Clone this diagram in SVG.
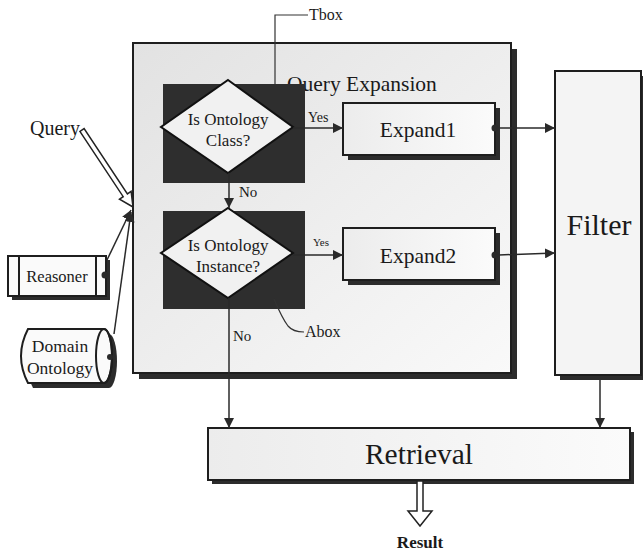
<svg xmlns="http://www.w3.org/2000/svg" width="643" height="554" viewBox="0 0 643 554">
  <style>
    text { font-family: "Liberation Serif", "Times New Roman", serif; fill: #1a1a1a; }
    .box { stroke: #1e1e1e; stroke-width: 2; }
    .shadow { fill: #2c2c2c; }
    .dark { fill: #2e2e2e; }
    .dia { fill: #f1f1f1; stroke: #111; stroke-width: 2; }
    .conn { fill: none; stroke: #2a2a2a; stroke-width: 1.5; }
    .thin { fill: none; stroke: #333; stroke-width: 1.2; }
    .hollow { fill: #fff; stroke: #222; stroke-width: 1.5; stroke-linejoin: miter; }
  </style>
  <defs>
    <marker id="arr" viewBox="0 0 10 10" refX="10" refY="5" markerWidth="10" markerHeight="10" markerUnits="userSpaceOnUse" orient="auto">
      <path d="M0,0 L10,5 L0,10 Z" fill="#2a2a2a"/>
    </marker>
    <linearGradient id="qeFill" x1="0" y1="0" x2="1" y2="1">
      <stop offset="0" stop-color="#e2e2e2"/>
      <stop offset="1" stop-color="#f9f9f9"/>
    </linearGradient>
    <linearGradient id="boxFill" x1="0" y1="0" x2="1" y2="0">
      <stop offset="0" stop-color="#ececec"/>
      <stop offset="1" stop-color="#fbfbfb"/>
    </linearGradient>
  </defs>

  <rect width="643" height="554" fill="#ffffff"/>

  <!-- Query Expansion container -->
  <g id="query-expansion">
    <rect class="shadow" x="139" y="49" width="378" height="330"/>
    <rect class="box" x="133" y="43" width="378" height="330" fill="url(#qeFill)"/>
    <text x="287" y="91" font-size="21.5">Query Expansion</text>
  </g>

  <!-- Tbox: class test -->
  <g id="tbox">
    <rect class="dark" x="163" y="84" width="142" height="99"/>
    <polygon class="dia" points="228,80 293,127 228,173 161,127"/>
    <text x="228" y="125" font-size="17" text-anchor="middle">Is Ontology</text>
    <text x="228" y="146" font-size="17" text-anchor="middle">Class?</text>
  </g>

  <!-- Abox: instance test -->
  <g id="abox">
    <rect class="dark" x="163" y="211" width="142" height="98"/>
    <polygon class="dia" points="228,208 293,253 228,298 161,253"/>
    <text x="228" y="251" font-size="17" text-anchor="middle">Is Ontology</text>
    <text x="228" y="272" font-size="17" text-anchor="middle">Instance?</text>
  </g>

  <g id="expand1">
    <rect class="shadow" x="348" y="108" width="152" height="52"/>
    <rect class="box" x="343" y="103" width="152" height="52" fill="url(#boxFill)"/>
    <circle cx="495" cy="128" r="3.5" fill="#2a2a2a"/>
    <text x="418" y="137" font-size="21.5" text-anchor="middle">Expand1</text>
  </g>

  <g id="expand2">
    <rect class="shadow" x="348" y="233" width="152" height="52"/>
    <rect class="box" x="343" y="228" width="152" height="52" fill="url(#boxFill)"/>
    <circle cx="495" cy="255" r="3.5" fill="#2a2a2a"/>
    <text x="418" y="263" font-size="21.5" text-anchor="middle">Expand2</text>
  </g>

  <g id="filter">
    <rect class="shadow" x="560" y="76" width="86" height="304"/>
    <rect class="box" x="555" y="71" width="86" height="304" fill="#f4f4f4"/>
    <text x="599" y="235" font-size="30" text-anchor="middle">Filter</text>
  </g>

  <g id="retrieval">
    <rect class="shadow" x="212" y="432" width="422" height="52"/>
    <rect class="box" x="208" y="428" width="422" height="52" fill="url(#boxFill)"/>
    <text x="419" y="464" font-size="29.5" text-anchor="middle">Retrieval</text>
  </g>

  <g id="reasoner">
    <rect class="shadow" x="12" y="260" width="98" height="40"/>
    <rect class="box" x="8" y="256" width="98" height="40" fill="#fafafa"/>
    <line x1="19" y1="256" x2="19" y2="296" stroke="#1e1e1e" stroke-width="2"/>
    <line x1="96" y1="256" x2="96" y2="296" stroke="#1e1e1e" stroke-width="2"/>
    <circle cx="105" cy="275" r="3.5" fill="#2a2a2a"/>
    <text x="57" y="282" font-size="16.5" text-anchor="middle">Reasoner</text>
  </g>

  <g id="domain-ontology">
    <path class="shadow" d="M33,334 L109,334 A8,27 0 0 1 109,388 L33,388 Q19,361 33,334 Z"/>
    <path class="box" d="M28,329 L104,329 A8,27 0 0 1 104,383 L28,383 Q14,356 28,329 Z" fill="#fafafa"/>
    <ellipse cx="104" cy="356" rx="8" ry="27" fill="none" stroke="#1e1e1e" stroke-width="2"/>
    <circle cx="110" cy="357" r="3" fill="#2a2a2a"/>
    <text x="60" y="352" font-size="17.5" text-anchor="middle">Domain</text>
    <text x="60" y="374" font-size="17.5" text-anchor="middle">Ontology</text>
  </g>

  <g id="connectors">
    <!-- decision flow -->
    <line class="conn" x1="293" y1="128" x2="343" y2="128" marker-end="url(#arr)"/>
    <line class="conn" x1="293" y1="255" x2="343" y2="255" marker-end="url(#arr)"/>
    <line class="conn" x1="229" y1="173" x2="229" y2="208" marker-end="url(#arr)"/>
    <line class="conn" x1="229" y1="298" x2="229" y2="428" marker-end="url(#arr)"/>
    <line class="conn" x1="499" y1="128" x2="555" y2="128" marker-end="url(#arr)"/>
    <line class="conn" x1="499" y1="255" x2="555" y2="253" marker-end="url(#arr)"/>
    <line class="conn" x1="600" y1="380" x2="600" y2="428" marker-end="url(#arr)"/>
    <!-- inputs into the expansion block -->
    <line class="conn" x1="107" y1="260" x2="131" y2="210" marker-end="url(#arr)"/>
    <line class="conn" x1="114" y1="334" x2="131" y2="212" marker-end="url(#arr)"/>
    <polygon class="hollow" points="79.9,131.4 123.2,196.7 119.5,199.2 133,207 131.1,191.4 127.4,193.9 84.1,128.6"/>
    <!-- result output -->
    <polygon class="hollow" points="417,481 417,511 408,511 420,526 432,511 423,511 423,481"/>
    <!-- Tbox / Abox callouts -->
    <polyline class="thin" points="275,84 275,15 308,15"/>
    <path class="thin" d="M274,299 Q282,318 288,326 Q293,332 304,332"/>
  </g>

  <g id="labels">
    <text x="30" y="135" font-size="20">Query</text>
    <text x="308" y="122" font-size="14">Yes</text>
    <text x="313" y="246" font-size="11">Yes</text>
    <text x="239" y="197" font-size="15">No</text>
    <text x="233" y="341" font-size="15">No</text>
    <text x="309" y="20" font-size="16">Tbox</text>
    <text x="305" y="337" font-size="16">Abox</text>
    <text x="420" y="548" font-size="17" font-weight="bold" text-anchor="middle">Result</text>
  </g>
</svg>
